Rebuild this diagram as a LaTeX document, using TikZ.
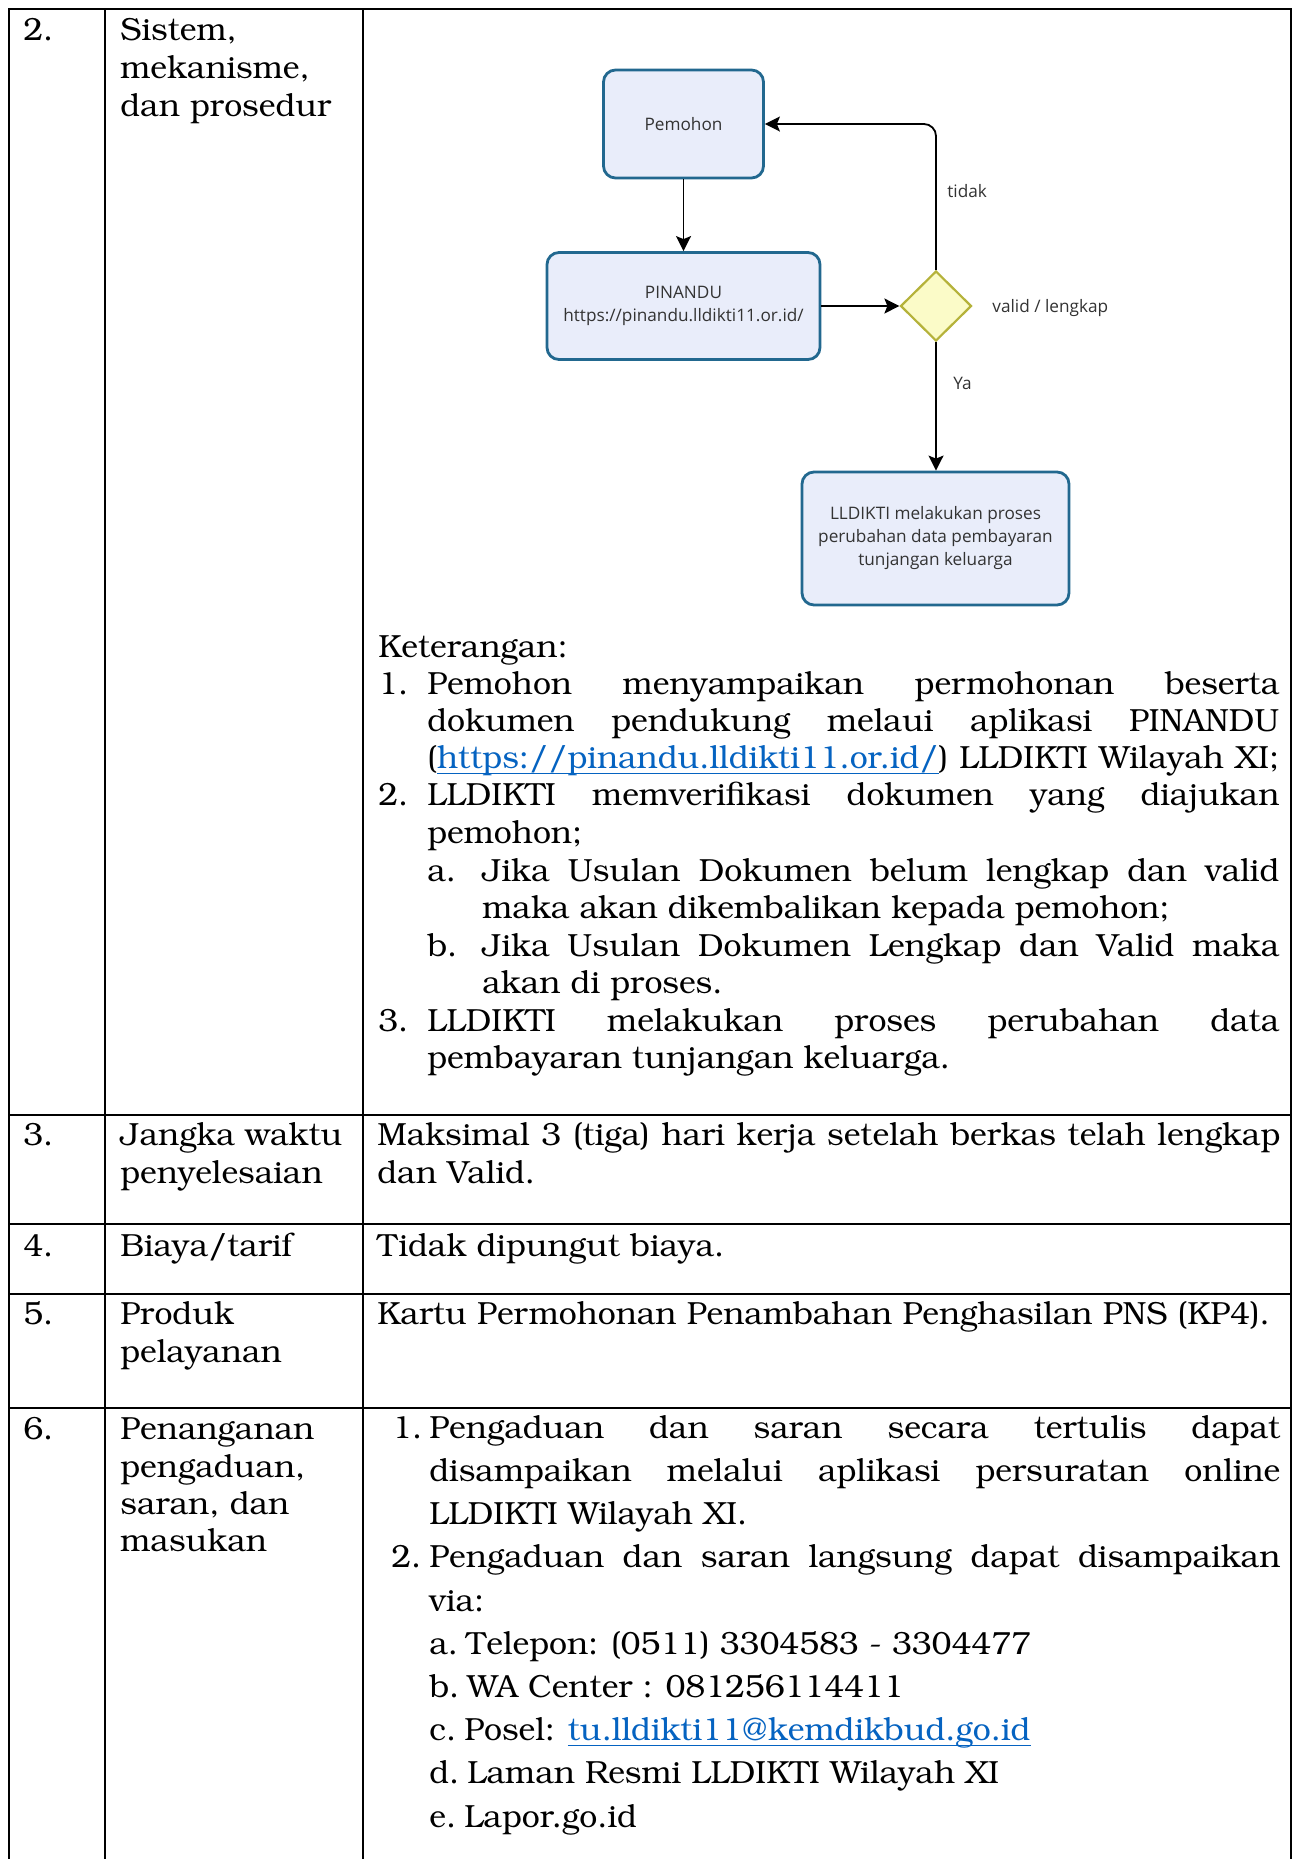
\documentclass[tikz,border=0pt]{standalone}
\usepackage[T1]{fontenc}
\usepackage{fontspec}
\usetikzlibrary{shapes.geometric,arrows.meta}
\newfontfamily\flowsans{Open Sans}
\newcommand\bkfont{\fontencoding{T1}\fontfamily{pbk}\fontseries{m}\fontshape{n}\fontsize{16pt}{18.75pt}\selectfont}
\definecolor{boxline}{HTML}{22688F}
\definecolor{boxfill}{HTML}{E9EDFA}
\definecolor{diafill}{HTML}{FBFBC8}
\definecolor{dialine}{HTML}{B5B23A}
\definecolor{flowtext}{HTML}{333333}
\definecolor{linkblue}{HTML}{0563C1}
% underlined hyperlink text
\newcommand\ulink[1]{\textcolor{linkblue}{\setbox0\hbox{#1}\rlap{\rule[-3pt]{\wd0}{0.7pt}}\box0}}
% justified line of a given width
\newcommand\jline[2]{\makebox[#1][s]{#2}}
\begin{document}
\begin{tikzpicture}[x=0.5pt,y=-0.5pt,
  grid/.style={line width=1.3pt,black},
  cell/.style={anchor=base west,inner sep=0pt,font=\bkfont},
  flowbox/.style={draw=boxline,fill=boxfill,line width=1.4pt,rounded corners=6pt,
    align=center,inner sep=2pt,text=flowtext,
    font=\flowsans\fontsize{8.6pt}{11.5pt}\selectfont},
  decide/.style={diamond,draw=dialine,fill=diafill,line width=1.1pt,inner sep=0pt,
    minimum width=35.5pt,minimum height=35pt},
  flowarrow/.style={-{Stealth[length=7.5pt,width=7.5pt,inset=1.5pt]},line width=0.9pt,black},
  flowlabel/.style={anchor=base west,inner sep=0pt,text=flowtext,
    font=\flowsans\fontsize{8.6pt}{11.5pt}\selectfont}]
\useasboundingbox (0,0) rectangle (1298,1859);
\fill[white] (0,0) rectangle (1298,1859);

% table rules
\draw[grid] (9,1875) -- (9,9) -- (1291,9) -- (1291,1875);
\draw[grid] (105,9) -- (105,1875);
\draw[grid] (363,9) -- (363,1875);
\foreach \yy in {1115,1224,1294,1408}
  \draw[grid] (9,\yy) -- (1291,\yy);

% first column: numbers
\node[cell] (no2) at (23,40) {2.};
\node[cell] (no3) at (23,1145) {3.};
\node[cell] (no4) at (23,1256) {4.};
\node[cell] (no5) at (23,1324) {5.};
\node[cell] (no6) at (23,1439) {6.};

% second column: components
\node[cell] (c2a) at (120,40) {Sistem,};
\node[cell] (c2b) at (120,78) {mekanisme,};
\node[cell] (c2c) at (120,116) {dan prosedur};
\node[cell] (c3a) at (120,1145) {Jangka waktu};
\node[cell] (c3b) at (120,1183) {penyelesaian};
\node[cell] (c4a) at (120,1256) {Biaya/tarif};
\node[cell] (c5a) at (120,1324) {Produk};
\node[cell] (c5b) at (120,1362) {pelayanan};
\node[cell] (c6a) at (120,1439) {Penanganan};
\node[cell] (c6b) at (120,1477) {pengaduan,};
\node[cell] (c6c) at (120,1514) {saran, dan};
\node[cell] (c6d) at (120,1551) {masukan};

% flowchart
\node[flowbox,minimum width=80pt,minimum height=54pt] (pem) at (683.5,124) {Pemohon};
\node[flowbox,minimum width=136.5pt,minimum height=53.5pt] (pin) at (683.5,306) {PINANDU\\https://pinandu.lldikti11.or.id/};
\node[decide] (dia) at (936,306) {};
\node[flowbox,minimum width=133.5pt,minimum height=66.5pt] (fin) at (935.5,538.5) {LLDIKTI melakukan proses\\perubahan data pembayaran\\tunjangan keluarga};
\draw[flowarrow] (pem) -- (pin);
\draw[flowarrow] (pin) -- (dia);
\draw[flowarrow,rounded corners=6pt] (dia.north) |- (pem.east);
\draw[flowarrow] (dia.south) -- (dia.south |- fin.north);
\node[flowlabel] (ltidak) at (947,197) {tidak};
\node[flowlabel] (lvalid) at (992,312) {valid / lengkap};
\node[flowlabel] (lya) at (953,389) {Ya};

% explanation of the procedure
\node[cell] (ket) at (378,657) {Keterangan:};
\node[cell] (k1n) at (378,694) {1.};
\node[cell] (k1a) at (427,694) {\jline{426pt}{Pemohon menyampaikan permohonan beserta}};
\node[cell] (k1b) at (427,731) {\jline{426pt}{dokumen pendukung melaui aplikasi PINANDU}};
\node[cell] (k1c) at (427,768) {\jline{426pt}{(\ulink{https://pinandu.lldikti11.or.id/}) LLDIKTI Wilayah XI;}};
\node[cell] (k2n) at (378,805) {2.};
\node[cell] (k2a) at (427,805) {\jline{426pt}{LLDIKTI memverifikasi dokumen yang diajukan}};
\node[cell] (k2b) at (427,843) {pemohon;};
\node[cell] (kan) at (427,881) {a.};
\node[cell] (kaa) at (482,881) {\jline{398.5pt}{Jika Usulan Dokumen belum lengkap dan valid}};
\node[cell] (kab) at (482,918) {maka akan dikembalikan kepada pemohon;};
\node[cell] (kbn) at (427,956) {b.};
\node[cell] (kba) at (482,956) {\jline{398.5pt}{Jika Usulan Dokumen Lengkap dan Valid maka}};
\node[cell] (kbb) at (482,993) {akan di proses.};
\node[cell] (k3n) at (378,1031) {3.};
\node[cell] (k3a) at (427,1031) {\jline{426pt}{LLDIKTI melakukan proses perubahan data}};
\node[cell] (k3b) at (427,1068) {pembayaran tunjangan keluarga.};

% rows 3 to 5
\node[cell] (r3a) at (377,1145) {\jline{451.5pt}{Maksimal 3 (tiga) hari kerja setelah berkas telah lengkap}};
\node[cell] (r3b) at (377,1183) {dan Valid.};
\node[cell] (r4a) at (377,1256) {Tidak dipungut biaya.};
\node[cell] (r5a) at (377,1324) {Kartu Permohonan Penambahan Penghasilan PNS (KP4).};

% row 6
\node[cell] (p1n) at (392,1438) {1.};
\node[cell] (p1a) at (429,1438) {\jline{425.5pt}{Pengaduan dan saran secara tertulis dapat}};
\node[cell] (p1b) at (429,1481) {\jline{425.5pt}{disampaikan melalui aplikasi persuratan online}};
\node[cell] (p1c) at (429,1524) {LLDIKTI Wilayah XI.};
\node[cell] (p2n) at (391,1567) {2.};
\node[cell] (p2a) at (429,1567) {\jline{425.5pt}{Pengaduan dan saran langsung dapat disampaikan}};
\node[cell] (p2b) at (429,1611) {via:};
\node[cell] (pa) at (429,1654) {a.\kern4pt Telepon: (0511) 3304583 - 3304477};
\node[cell] (pb) at (429,1697) {b.\kern4pt WA Center : 081256114411};
\node[cell] (pc) at (429,1740) {c.\kern4pt Posel: \ulink{tu.lldikti11@kemdikbud.go.id}};
\node[cell] (pd) at (429,1783) {d.\kern4pt Laman Resmi LLDIKTI Wilayah XI};
\node[cell] (pe) at (429,1827) {e.\kern4pt Lapor.go.id};
\end{tikzpicture}
\end{document}
